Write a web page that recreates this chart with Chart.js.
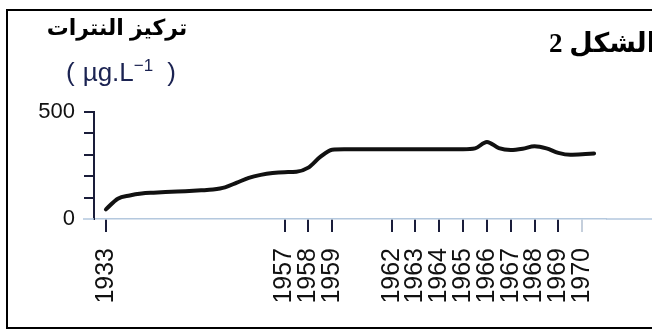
<!DOCTYPE html>
<html>
<head>
<meta charset="utf-8">
<script src="https://cdn.jsdelivr.net/npm/chart.js@4.4.1/dist/chart.umd.min.js"></script>
<style>
    html, body {
        margin: 0;
        padding: 0;
        background: #FFFFFF;
    }
    #wrap {
        position: relative;
        width: 652px;
        height: 331px;
        overflow: hidden;
        background: #FFFFFF;
    }
    #frame {
        position: absolute;
        left: 6px;
        top: 9px;
        width: 680px;
        height: 316px;
        border: 2px solid #000000;
    }
    #chartBox {
        position: absolute;
        left: 0;
        top: 0;
        width: 652px;
        height: 331px;
    }
    .label {
        position: absolute;
        white-space: nowrap;
    }
    #yTitle {
        left: 38px;
        top: 15px;
        width: 158px;
        text-align: center;
        font: bold 22px Arial, "Liberation Sans", "DejaVu Sans", sans-serif;
        direction: rtl;
        color: #000000;
    }
    #yUnit {
        left: 66px;
        top: 56px;
        font: 26px Arial, "Liberation Sans", sans-serif;
        color: #1B2352;
    }
    #yUnit .inner {
        margin: 0 14px 0 8px;
    }
    #yUnit sup {
        font-size: 17px;
        vertical-align: 10px;
    }
    #figTitle {
        right: -4px;
        top: 27px;
        font: bold 27px "Liberation Serif", "DejaVu Serif", "DejaVu Sans", serif;
        direction: rtl;
        color: #000000;
    }
</style>
</head>
<body>
<div id="wrap">
    <div id="frame"></div>
    <div id="chartBox"><canvas id="chartNitrate"></canvas></div>
    <div class="label" id="yTitle">تركيز النترات</div>
    <div class="label" id="yUnit">(<span class="inner">µg.L<sup>−1</sup></span>)</div>
    <div class="label" id="figTitle">الشكل 2</div>
</div>

<script>

/* ---------- data ---------- */

// one slot per half-step along the time axis; empty = no tick label
const periods = [
    "", "1933", "", "", "", "", "", "", "", "", "", "", "", "", "", "",
    "1957", "", "1958", "", "1959", "", "", "", "",
    "1962", "", "1963", "", "1964", "", "1965", "", "1966", "",
    "1967", "", "1968", "", "1969", "", "1970", "", ""
];

// nitrate concentration (µg/L)
const nitrate = [
    null, 45, 95, 110, 119, 123, 126, 128, 131, 134, 138, 148, 170, 192, 206, 215,
    219, 221, 240, 290, 324, 326, 326, 326, 326,
    326, 326, 326, 326, 326, 326, 326, 330, 360, 331,
    322, 328, 340, 330, 309, 300, 302, 306, null
];

const yLabelValues = [0, 500];

/* ---------- helpers ---------- */

const axisDark = "#1A1D3A";
const axisLight = "#B4C8DE";

// the x axis line runs a bit past both ends of the plot
const axisStub = {
    id: "axisStub",
    afterDraw(chart) {
        const c = chart.ctx;
        const area = chart.chartArea;
        const y0 = chart.scales.y.getPixelForValue(0);
        c.save();
        c.strokeStyle = axisLight;
        c.lineWidth = 1.5;
        c.beginPath();
        c.moveTo(area.left - 11, y0);
        c.lineTo(area.left, y0);
        c.moveTo(area.right, y0);
        c.lineTo(chart.width, y0);
        c.stroke();
        c.restore();
    }
};

function buildChart() {

    const ctx = document
        .getElementById("chartNitrate")
        .getContext("2d");

    new Chart(ctx, {

        type: "line",

        data: {

            labels: periods,

            datasets: [{

                data: nitrate,

                borderColor: "#111111",

                borderWidth: 4,

                borderCapStyle: "round",

                borderJoinStyle: "round",

                cubicInterpolationMode: "monotone",

                pointRadius: 0,

                fill: false,

                spanGaps: false

            }]

        },

        options: {

            responsive: true,

            maintainAspectRatio: false,

            animation: false,

            layout: {
                padding: { left: 0, right: 17, top: 112, bottom: 0 }
            },

            plugins: {

                legend: { display: false },

                tooltip: { enabled: false }

            },

            scales: {

                x: {

                    type: "category",

                    offset: false,

                    afterFit: s => { s.height = 112; },

                    border: {
                        color: axisLight,
                        width: 1.5
                    },

                    grid: {
                        drawOnChartArea: false,
                        drawTicks: true,
                        tickLength: 13,
                        lineWidth: 2,
                        color: c => {
                            const lab = c.tick ? c.tick.label : "";
                            if (!lab) return "rgba(0,0,0,0)";
                            return lab === "1970" ? "#C5CFDC" : axisDark;
                        }
                    },

                    ticks: {
                        autoSkip: false,
                        maxRotation: 90,
                        minRotation: 90,
                        padding: 16,
                        color: "#111111",
                        font: { family: "Arial, 'Liberation Sans', sans-serif", size: 25 }
                    }

                },

                y: {

                    min: 0,

                    max: 500,

                    afterFit: s => { s.width = 94; },

                    border: {
                        color: axisDark,
                        width: 2
                    },

                    grid: {
                        drawOnChartArea: false,
                        drawTicks: true,
                        tickLength: 10,
                        lineWidth: 2,
                        color: c => (c.tick && c.tick.value === 0) ? "rgba(0,0,0,0)" : axisDark
                    },

                    ticks: {
                        stepSize: 100,
                        autoSkip: false,
                        padding: 9,
                        color: "#111111",
                        font: { family: "Arial, 'Liberation Sans', sans-serif", size: 22 },
                        callback: v => yLabelValues.includes(v) ? v : ""
                    }

                }

            }

        },

        plugins: [axisStub]

    });

}

buildChart();

</script>
</body>
</html>
